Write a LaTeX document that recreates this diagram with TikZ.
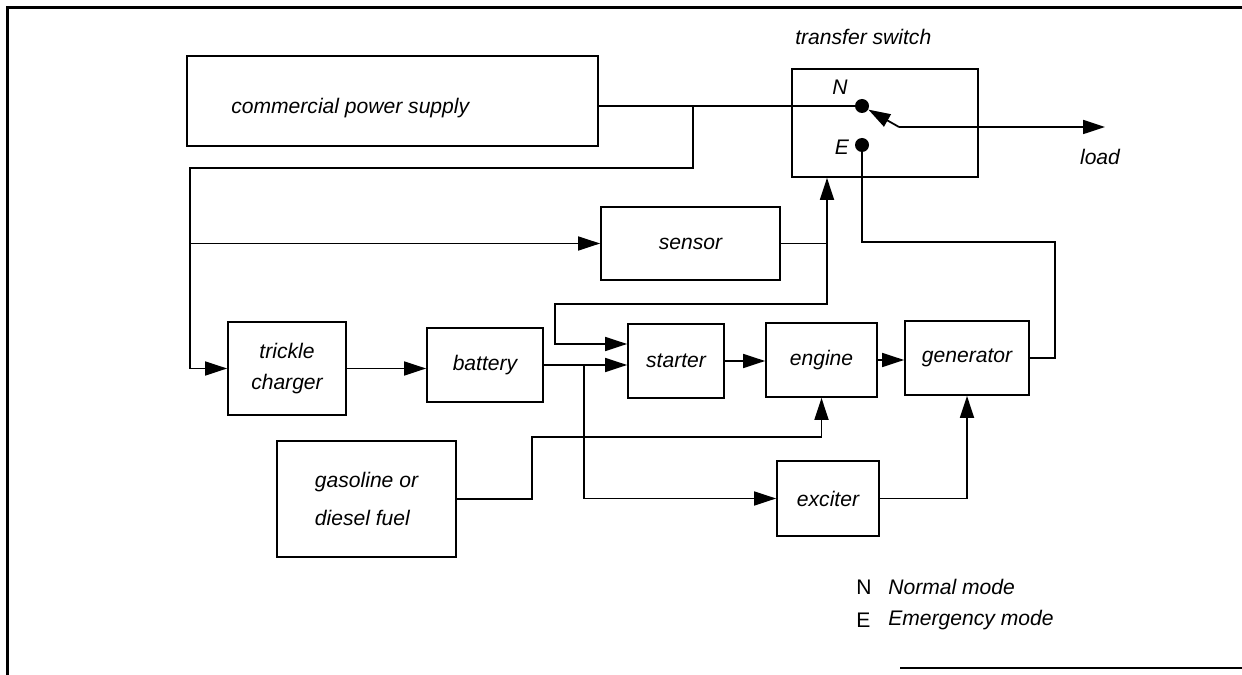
\documentclass[tikz,border=0pt]{standalone}
\usepackage{fontspec}
\setmainfont{Liberation Sans}
\usetikzlibrary{arrows.meta, calc}

\begin{document}
\begin{tikzpicture}[
    x=0.02cm, y=-0.02cm,
    box/.style={rectangle, draw, line width=1pt, inner sep=0pt, align=center, font=\itshape\fontsize{12}{14}\selectfont},
    txt/.style={inner sep=0pt, font=\itshape\fontsize{12}{14}\selectfont},
    dot/.style={circle, fill, inner sep=0pt, minimum size=0.28cm},
    arrow/.style={-{Triangle[length=4.4mm, width=2.8mm]}, line width=1pt},
    wire/.style={line width=1pt},
  ]
  \useasboundingbox (0,0) rectangle (1242,675);
  % frame
  \draw[line width=1.7pt] (1242,7.5) -- (7.5,7.5) -- (7.5,675);
  \draw[line width=1.7pt] (900,668) -- (1242,668);

  % blocks
  \node[box, minimum width=8.22cm, minimum height=1.8cm] (cps) at (392.5,101) {};
  \node[txt, anchor=west] (cpstext) at (231,108) {commercial power supply};
  \node[box, minimum width=3.72cm, minimum height=2.16cm] (sw) at (885,123) {};
  \node[txt, anchor=west] (swtext) at (795,37) {transfer switch};
  \node[box, minimum width=3.58cm, minimum height=1.46cm] (sensor) at (690.5,243.5) {sensor};
  \node[box, minimum width=2.36cm, minimum height=1.86cm] (tc) at (287,368.5) {trickle\\[4pt]charger};
  \node[box, minimum width=2.32cm, minimum height=1.48cm] (battery) at (485,365) {battery};
  \node[box, minimum width=1.92cm, minimum height=1.48cm] (starter) at (676,361) {starter};
  \node[box, minimum width=2.22cm, minimum height=1.48cm] (engine) at (821.5,360) {engine};
  \node[box, minimum width=2.48cm, minimum height=1.48cm] (gen) at (967,358) {generator};
  \node[box, minimum width=2.04cm, minimum height=1.5cm] (exciter) at (828,498.5) {exciter};
  \node[box, minimum width=3.58cm, minimum height=2.32cm, align=left] (fuel) at (366.5,499) {gasoline or\\[8pt]diesel fuel};

  % switch contacts
  \node[dot] (ndot) at (862,106) {};
  \node[dot] (edot) at (862,145) {};
  \node[txt] (nlabel) at (840,87) {N};
  \node[txt] (elabel) at (842,147) {E};
  \coordinate (pivot) at (899,127);
  \coordinate (load) at (1105,127);
  \node[txt] (loadtext) at (1100,157) {load};

  % helper points
  \coordinate (tap) at (693,106);
  \coordinate (bus) at (190,168);
  \coordinate (trig) at (827,243.5);
  \coordinate (loop) at (555,304);
  \coordinate (split) at (584,365);
  \coordinate (fuelup) at (532,437);
  \coordinate (ret) at (1055,242);

  % connections
  \draw[wire] (cps.east |- ndot) -- (ndot);
  \draw[arrow] (tap) |- (bus) |- (tc.west);
  \draw[arrow] (bus |- sensor.west) -- (sensor.west);
  \draw[arrow] (sensor.east) -- (trig) -- (trig |- sw.south);
  \draw[arrow] (trig) |- (loop) |- ($(starter.west)+(0,-17)$);
  \draw[arrow] (tc.east) -- (tc.east -| battery.west);
  \draw[arrow] (battery.east) -- (battery.east -| starter.west);
  \draw[arrow] (split) |- (exciter.west);
  \draw[arrow] (starter.east) -- (starter.east -| engine.west);
  \draw[arrow] (engine.east) -- (engine.east -| gen.west);
  \draw[arrow] (fuel.east) -| (fuelup) -| (engine.south);
  \draw[arrow] (exciter.east) -| (gen.south);
  \draw[wire] (gen.east) -| (ret) -| (edot);
  \draw[arrow] (pivot) -- (ndot);
  \draw[arrow] (pivot) -- (load);

  % legend
  \node[txt, font=\fontsize{12}{14}\selectfont, anchor=west] (legn) at (856,587) {N};
  \node[txt, anchor=west] (legntext) at (888,587) {Normal mode};
  \node[txt, font=\fontsize{12}{14}\selectfont, anchor=west] (lege) at (856,620) {E};
  \node[txt, anchor=west] (legetext) at (888,620) {Emergency mode};
\end{tikzpicture}
\end{document}
